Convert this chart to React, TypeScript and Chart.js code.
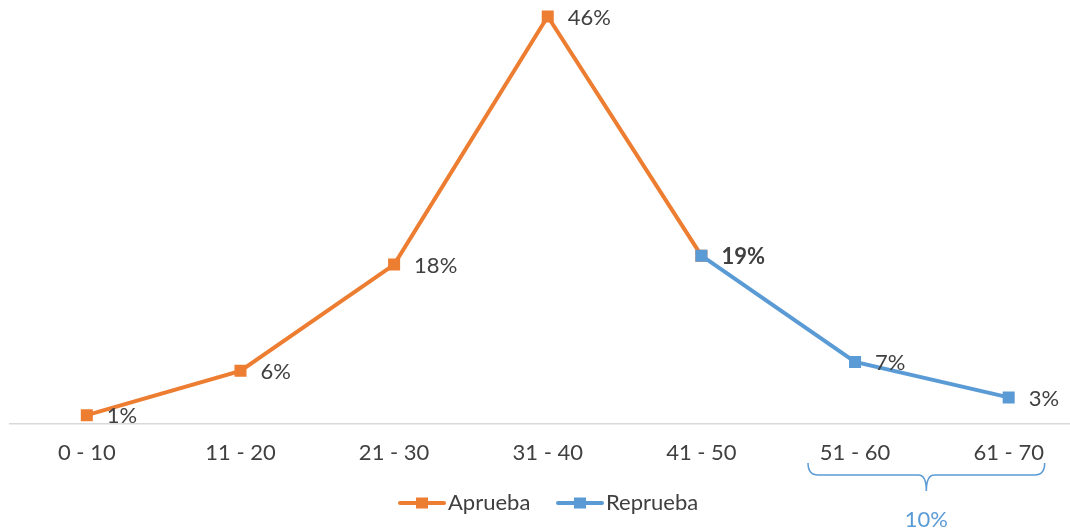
import React, { useEffect, useRef } from "react";
import { Chart, registerables } from "chart.js";

Chart.register(...registerables);

const categories = ["0 - 10", "11 - 20", "21 - 30", "31 - 40", "41 - 50", "51 - 60", "61 - 70"];
const apruebaValues = [1, 6, 18, 46, 19, null, null];
const repruebaValues = [null, null, null, null, 19, 7, 3];
const boldLabels = [false, false, false, false, true, false, false];
const seriesNames = ["Aprueba", "Reprueba"];
const bracketLabel = "10%";

const ORANGE = "#ED7D31";
const BLUE = "#5B9BD5";
const TEXT = "#404040";
const FONT = "Lato, 'Open Sans', sans-serif";
const FS = 22;

export default function App() {
  const ref = useRef<HTMLCanvasElement>(null);
  useEffect(() => {
    const canvas = ref.current!;
    const labelPlugin = {
      id: "labels",
      afterDatasetsDraw(chart: any) {
        const ctx = chart.ctx;
        ctx.save();
        ctx.fillStyle = TEXT;
        ctx.textBaseline = "middle";
        ctx.textAlign = "left";
        const drawn = new Set<number>();
        chart.data.datasets.forEach((ds: any, di: number) => {
          const meta = chart.getDatasetMeta(di);
          ds.data.forEach((v: any, i: number) => {
            if (v == null || drawn.has(i)) return;
            drawn.add(i);
            const pt = meta.data[i];
            ctx.font = `${boldLabels[i] ? "bold " : ""}${FS}px ${FONT}`;
            ctx.fillText(`${v}%`, pt.x + 20, pt.y + 1);
          });
        });
        ctx.restore();
      },
      afterDraw(chart: any) {
        const ctx = chart.ctx;
        const xs = chart.scales.x;
        ctx.save();
        // bracket
        const x1 = xs.getPixelForValue(5) - 47;
        const x2 = xs.getPixelForValue(6) + 36;
        const xm = (x1 + x2) / 2;
        const top = 463;
        const mid = 475;
        const bot = 491;
        ctx.strokeStyle = BLUE;
        ctx.lineWidth = 1.5;
        ctx.beginPath();
        ctx.moveTo(x1, top);
        ctx.quadraticCurveTo(x1, mid, x1 + 10, mid);
        ctx.lineTo(xm - 8, mid);
        ctx.quadraticCurveTo(xm, mid, xm, bot);
        ctx.quadraticCurveTo(xm, mid, xm + 8, mid);
        ctx.lineTo(x2 - 10, mid);
        ctx.quadraticCurveTo(x2, mid, x2, top);
        ctx.stroke();
        ctx.fillStyle = BLUE;
        ctx.font = `${FS}px ${FONT}`;
        ctx.textAlign = "center";
        ctx.textBaseline = "middle";
        ctx.fillText(bracketLabel, xm, 520);
        // legend
        const items = [
          { name: seriesNames[0], color: ORANGE, x: 398 },
          { name: seriesNames[1], color: BLUE, x: 556 },
        ];
        const ly = 503;
        items.forEach((it) => {
          ctx.strokeStyle = it.color;
          ctx.lineWidth = 4;
          ctx.lineCap = "round";
          ctx.beginPath();
          ctx.moveTo(it.x + 2, ly);
          ctx.lineTo(it.x + 46, ly);
          ctx.stroke();
          ctx.fillStyle = it.color;
          ctx.fillRect(it.x + 24 - 6, ly - 5.5, 12, 11);
          ctx.fillStyle = TEXT;
          ctx.textAlign = "left";
          ctx.font = `${FS}px ${FONT}`;
          ctx.fillText(it.name, it.x + 50, ly);
        });
        ctx.restore();
      },
    };
    const chart = new Chart(canvas, {
      type: "line",
      data: {
        labels: categories,
        datasets: [
          {
            label: seriesNames[0],
            data: apruebaValues,
            borderColor: ORANGE,
            backgroundColor: ORANGE,
            borderWidth: 4,
            pointStyle: "rect",
            pointRadius: 8.5,
            pointBorderWidth: 0,
            tension: 0,
            spanGaps: false,
            order: 1,
          },
          {
            label: seriesNames[1],
            data: repruebaValues,
            borderColor: BLUE,
            backgroundColor: BLUE,
            borderWidth: 4,
            pointStyle: "rect",
            pointRadius: 8.5,
            pointBorderWidth: 0,
            tension: 0,
            spanGaps: false,
            order: 0,
          },
        ],
      },
      options: {
        responsive: false,
        animation: false,
        devicePixelRatio: 1,
        layout: { padding: { left: 10, right: 0, top: 0, bottom: 0 } },
        plugins: { legend: { display: false }, tooltip: { enabled: false } },
        scales: {
          y: { display: false, min: 0, max: 46.9 },
          x: {
            offset: true,
            grid: { display: false, drawTicks: false },
            border: { display: true, color: "#D9D9D9", width: 1.5 },
            ticks: { color: TEXT, font: { family: FONT, size: FS }, padding: 16, maxRotation: 0, autoSkip: false },
            afterFit(scale: any) {
              scale.height = 105;
            },
          },
        },
      },
      plugins: [labelPlugin],
    });
    return () => chart.destroy();
  }, []);
  return (
    <div style={{ position: "fixed", left: 0, top: 0, width: 1070, height: 529, overflow: "hidden", background: "#fff" }}>
      <canvas ref={ref} width={1094} height={529} style={{ display: "block" }} />
    </div>
  );
}
